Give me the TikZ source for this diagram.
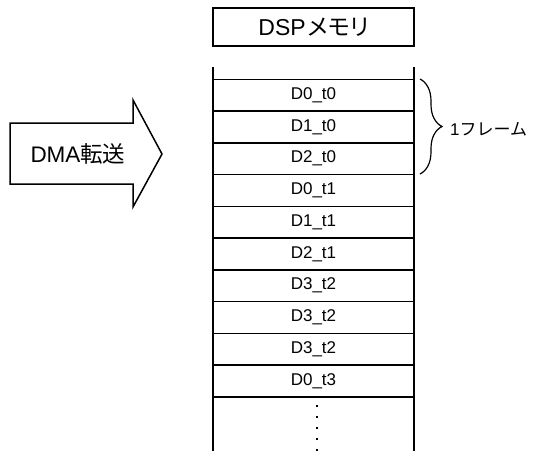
\documentclass[tikz,border=0pt]{standalone}
\usepackage{fontspec}
\setmainfont{Liberation Sans}
\newfontfamily\jp{Noto Sans CJK JP}
\newfontfamily\jpp[RawFeature=+palt]{Noto Sans CJK JP}
\usetikzlibrary{decorations.pathreplacing}
\tikzset{
  ln/.style={line width=1.5pt, black},
  rowbox/.style={ln, draw, minimum width=201pt, minimum height=31.75pt, inner sep=0pt, outer sep=0pt, font=\fontsize{17}{17}\selectfont, anchor=north west},
  headbox/.style={ln, draw, minimum width=201pt, minimum height=38pt, inner sep=0pt, outer sep=0pt, font=\fontsize{23}{23}\selectfont, anchor=north west},
}
\begin{document}
\begin{tikzpicture}[x=1pt,y=-1pt]
\useasboundingbox (0,0) rectangle (538,450);
\node[headbox] (dsp) at (213,8) {DSP\hspace{2pt}{\jpp メモリ}};
\coordinate (lt) at (213,67);
\coordinate (lb) at (213,452);
\coordinate (rt) at (414,67);
\coordinate (rb) at (414,452);
\draw[ln] (lt) -- (lb);
\draw[ln] (rt) -- (rb);
\foreach \t [count=\i from 0] in {D0\_t0,D1\_t0,D2\_t0,D0\_t1,D1\_t1,D2\_t1,D3\_t2,D3\_t2,D3\_t2,D0\_t3}{
  \node[rowbox] (r\i) at (213,{79.3+31.75*\i}) {\t};
}
\coordinate (d1) at (317,405);
\coordinate (d2) at (317,452);
\draw[line width=1.7pt, dash pattern=on 1.7pt off 9.3pt] (d1) -- (d2);
% brace
\coordinate (b1) at (420,79);
\coordinate (b2) at (420,174);
\draw[ln, line width=1.2pt, decorate, decoration={brace, amplitude=22pt}] (b1) -- (b2);
\node[anchor=west, inner sep=0pt, font=\fontsize{17}{17}\selectfont] (frame) at (450,129) {1{\jp フレーム}};
% arrow
\draw[ln, line join=miter] (10,123) -- (133,123) -- (133,100) -- (162,154) -- (133,207) -- (133,184) -- (10,184) -- cycle;
\node[font=\fontsize{22.5}{22.5}\selectfont, inner sep=0pt] (dma) at (78,154) {DMA{\jp 転送}};
\end{tikzpicture}
\end{document}
